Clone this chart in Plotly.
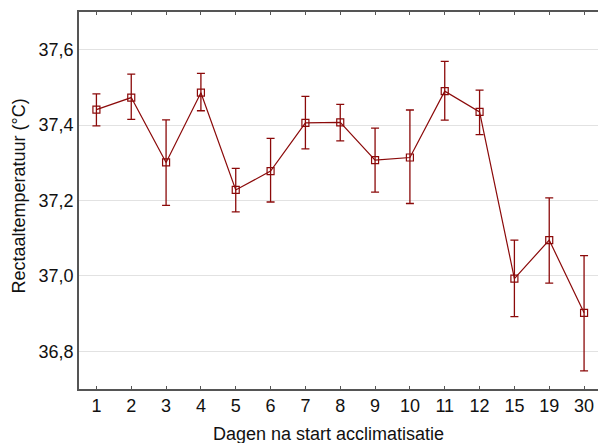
import plotly.graph_objects as go

days = ["1", "2", "3", "4", "5", "6", "7", "8", "9", "10", "11", "12", "15", "19", "30"]
means = [37.441, 37.473, 37.301, 37.486, 37.228, 37.278, 37.406, 37.407, 37.307, 37.314,
         37.490, 37.435, 36.993, 37.095, 36.902]
err_plus = [0.042, 0.062, 0.113, 0.051, 0.057, 0.087, 0.070, 0.048, 0.085, 0.126,
            0.079, 0.058, 0.102, 0.112, 0.152]
err_minus = [0.043, 0.058, 0.114, 0.048, 0.058, 0.082, 0.069, 0.049, 0.085, 0.122,
             0.077, 0.060, 0.101, 0.114, 0.154]

x_title = "Dagen na start acclimatisatie"
y_title = "Rectaaltemperatuur (°C)"

color = "#8B0A0A"
FONT = "Liberation Sans, Arial, sans-serif"

fig = go.Figure(go.Scatter(
    x=days, y=means,
    mode="lines+markers",
    line=dict(color=color, width=1.2),
    marker=dict(symbol="square-open", size=7, color=color, line=dict(width=1.2, color=color)),
    error_y=dict(type="data", symmetric=False, array=err_plus, arrayminus=err_minus,
                 color=color, thickness=1.3, width=4),
    showlegend=False,
    hoverinfo="skip",
))

axis_font = dict(family=FONT, size=18, color="#111")

fig.update_layout(
    width=598, height=443,
    margin=dict(l=79, r=0, t=12, b=54),
    paper_bgcolor="white", plot_bgcolor="white",
    separators=",.",
    font=dict(family=FONT, color="#111"),
    xaxis=dict(
        type="category", range=[-0.5, 14.4], automargin=False,
        showline=True, linecolor="#555", linewidth=1.5, mirror="ticks",
        ticks="inside", ticklen=3, tickcolor="#555", tickwidth=1,
        showgrid=False, zeroline=False,
        tickfont=axis_font,
    ),
    yaxis=dict(
        range=[36.7, 37.7], tickvals=[36.8, 37.0, 37.2, 37.4, 37.6], tickformat=".1f",
        automargin=False,
        showline=True, linecolor="#555", linewidth=1.5,
        ticks="", showgrid=True, gridcolor="#e2e2e2", gridwidth=1, zeroline=False,
        tickfont=axis_font,
    ),
    annotations=[
        dict(text=x_title, xref="paper", yref="paper", x=0.5, y=0, xanchor="center",
             yanchor="middle", xshift=-10, yshift=-45, showarrow=False,
             font=dict(family=FONT, size=18, color="#111")),
        dict(text=y_title, xref="paper", yref="paper", x=0, y=0.5, xanchor="center",
             yanchor="middle", xshift=-61, yshift=4, textangle=-90, showarrow=False,
             font=dict(family=FONT, size=18, color="#111")),
    ],
)

# remove the default page margin so the 598x443 figure fills the window exactly
fig.write_html(
    "out.html",
    config={"displayModeBar": False},
    post_script="document.body.style.margin='0';document.body.style.overflow='hidden';",
)
